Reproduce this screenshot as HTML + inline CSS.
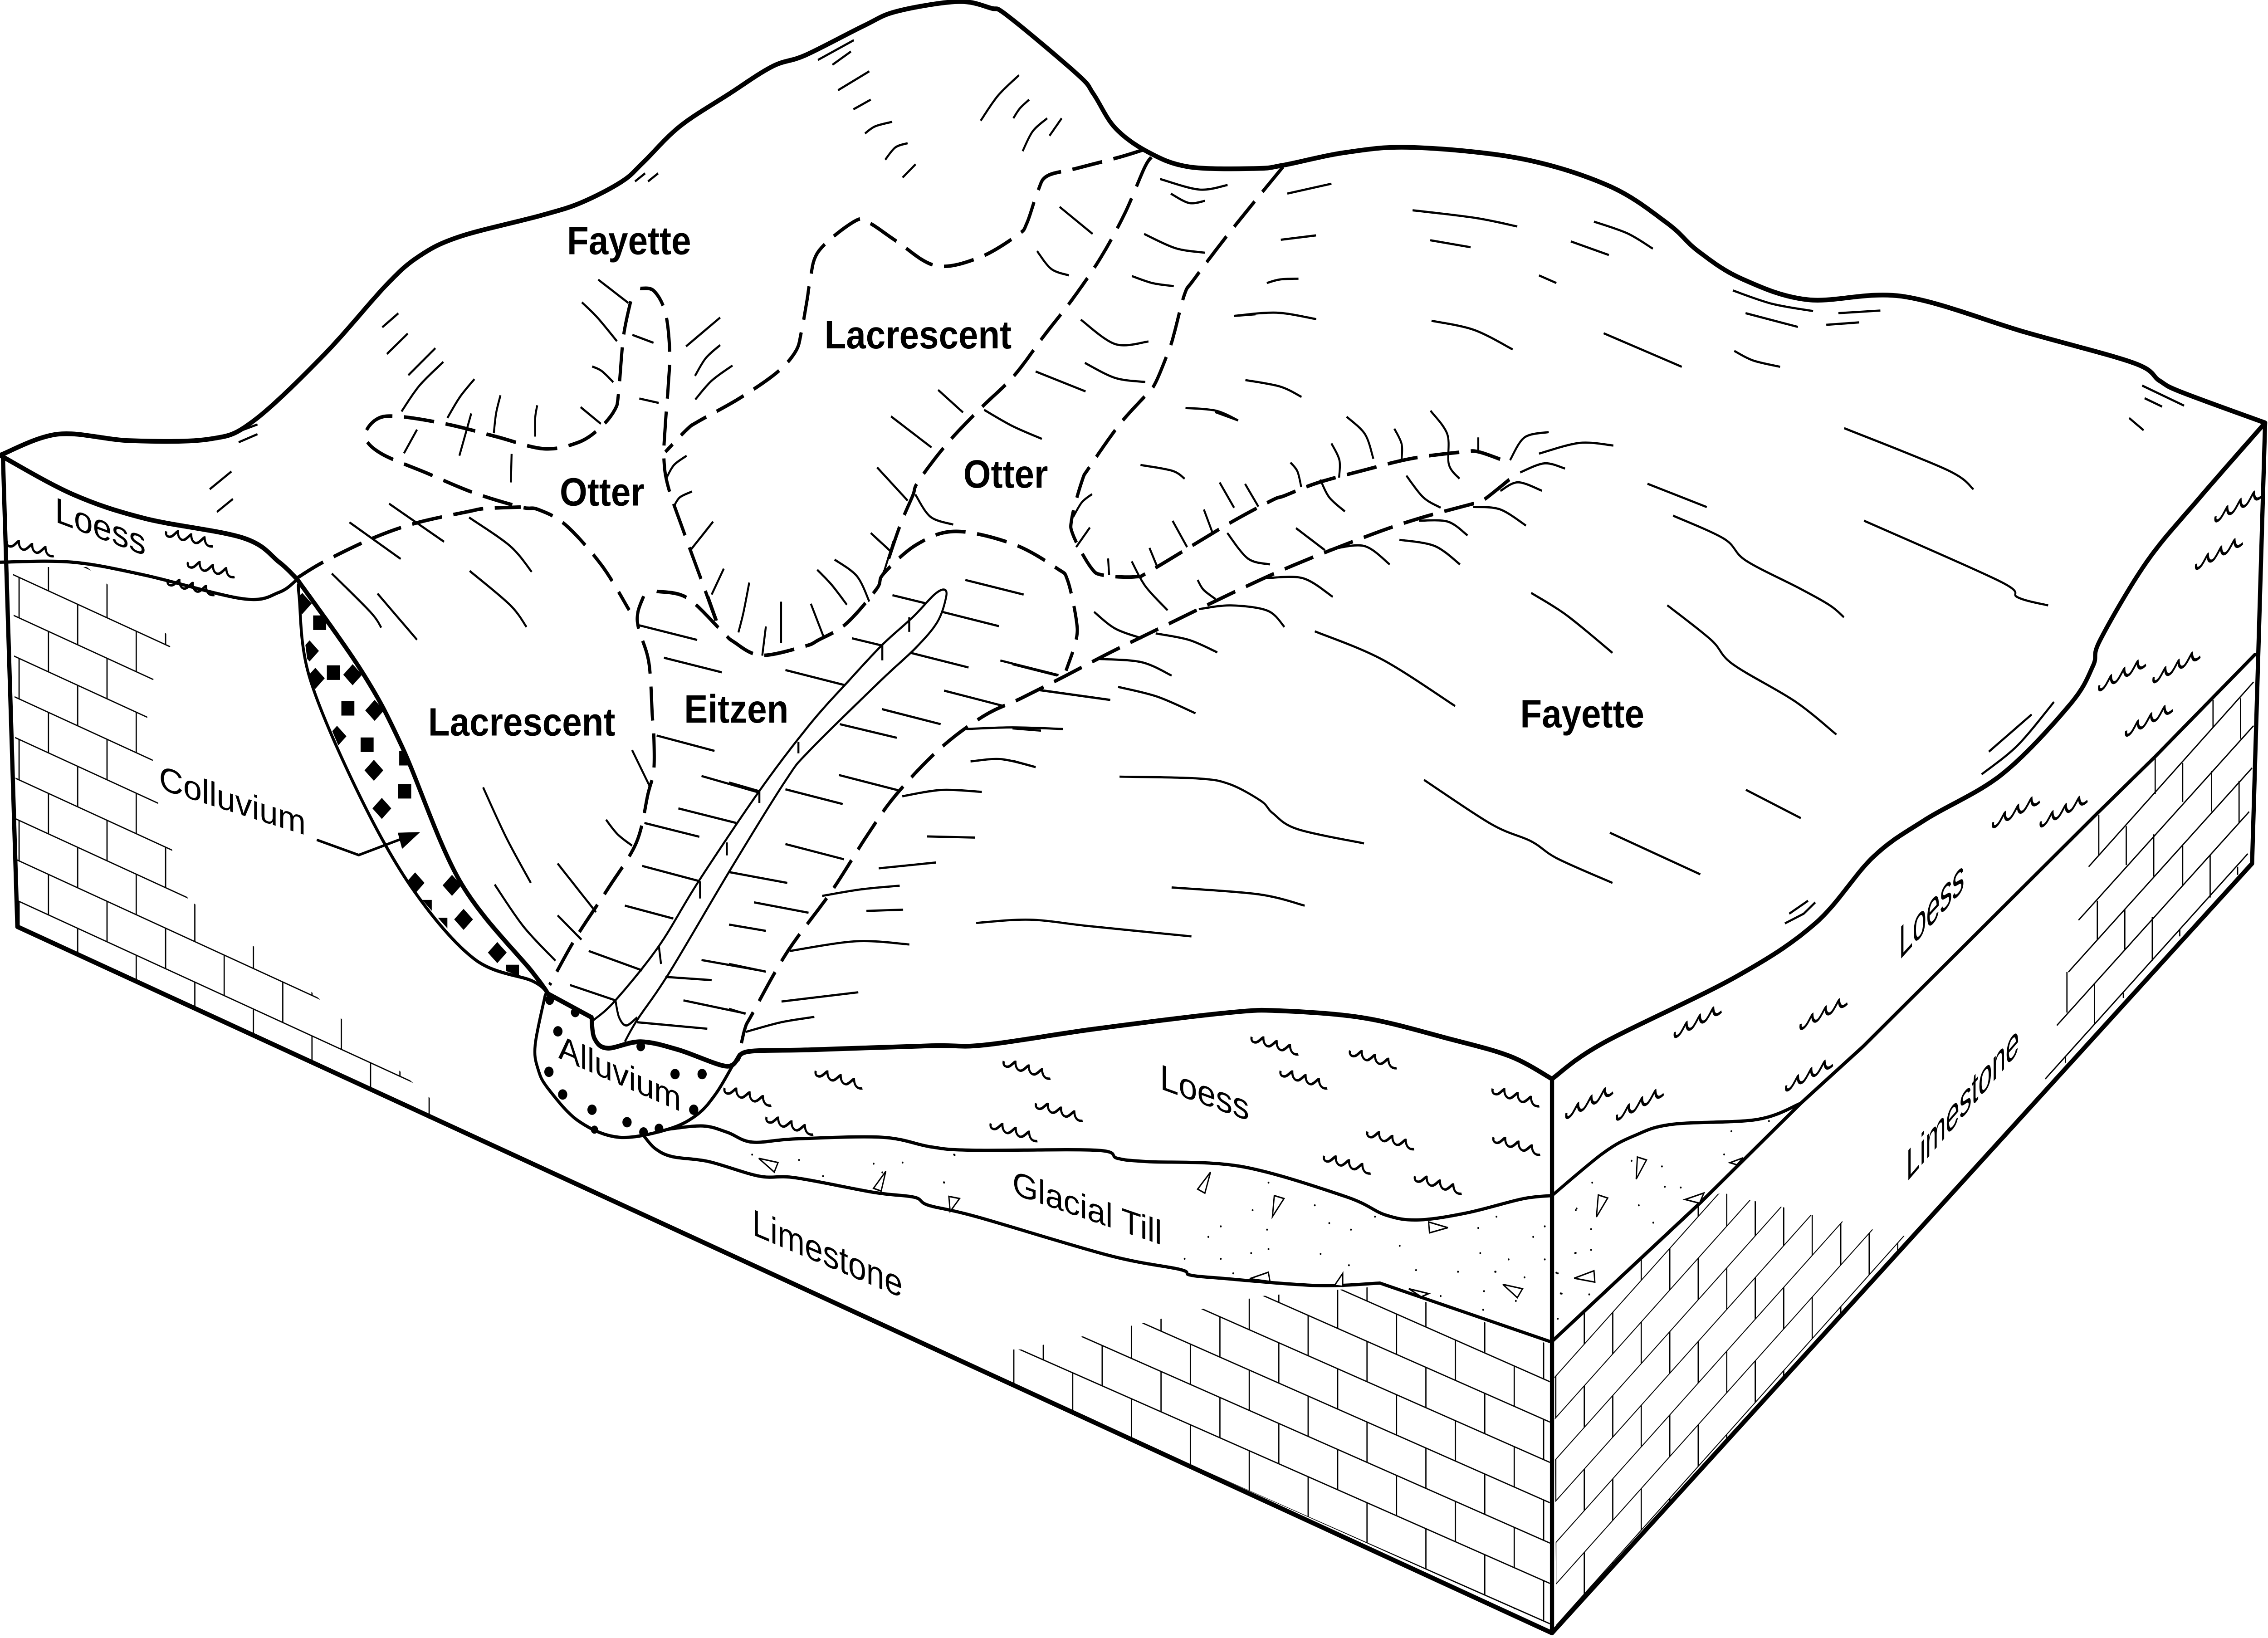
<!DOCTYPE html>
<html><head><meta charset="utf-8"><title>Block diagram</title>
<style>
html,body{margin:0;padding:0;background:#fff;width:100vw;height:100vh;overflow:hidden}
svg{display:block;position:absolute;left:0;top:0;width:100vw;height:100vh}
.t{fill:none;stroke:#000;stroke-width:2.9;stroke-linejoin:round;stroke-linecap:round}
.m{fill:none;stroke:#000;stroke-width:2;stroke-linejoin:round;stroke-linecap:round}
.d{fill:none;stroke:#000;stroke-width:2.2;stroke-dasharray:21 8;stroke-linejoin:round}
.h{fill:none;stroke:#000;stroke-width:1.35;stroke-linejoin:round}
.b{fill:none;stroke:#000;stroke-width:.85}
.w{fill:none;stroke:#000;stroke-width:1.5}
.s{fill:none;stroke:#000;stroke-width:1.2;stroke-linecap:round}
.r{fill:#fff;stroke:#000;stroke-width:.9}
text{font-family:"Liberation Sans",sans-serif;fill:#000}
.lb{font-weight:bold;font-size:24.5px}
</style></head><body>
<svg xmlns="http://www.w3.org/2000/svg" viewBox="0 0 1568 1011.08" preserveAspectRatio="none">
<defs>
<pattern id="pf" patternUnits="userSpaceOnUse" x="695.9" y="550.2" width="40.7" height="49.8" patternTransform="matrix(1,.394,0,1,0,0)">
<path class="b" d="M0 5H40.7M0 29.9H40.7M5 5V29.9M25.4 29.9V49.8M25.4 0V5"/></pattern>
<pattern id="pl" patternUnits="userSpaceOnUse" x="190.5" y="521" width="40.5" height="50" patternTransform="matrix(1,.41,0,1,0,0)">
<path class="b" d="M0 5H40.5M0 30H40.5M5 5V30M25.2 30V50M25.2 0V5"/></pattern>
<pattern id="pr" patternUnits="userSpaceOnUse" x="1110" y="1920" width="39.4" height="51.4" patternTransform="matrix(1,-1,0,1,0,0)">
<path class="b" d="M0 5H39.4M0 30.7H39.4M5 5V30.7M24.7 30.7V51.4M24.7 0V5"/></pattern>
<clipPath id="cf"><polygon points="700,833 706,833 748,825 789,817 831,808 872,800 927,796 954,794 1071.5,830 1071.5,1003 700,855"/></clipPath>
<clipPath id="cl"><polygon points="9,350 60,350 120,395 100,430 110,500 130,555 200,600 300,680 300,692 12,572"/></clipPath>
<clipPath id="cr"><polygon points="1074.5,829 1170,745 1190,736 1211,741 1232,745 1253,750 1274,754 1295,759 1317,763 1320,766 1076,1006"/></clipPath>
<clipPath id="cc"><polygon points="205.5,357.6 250.5,415 278,461 318,544 368,600 379,613.5 368,605.5 328,592 285.5,549 248,490 214,418 206.8,368"/></clipPath>
<path id="w" class="w" d="M0 0c-1 3.5 2.3 3.5 4 2.3c1.7-1.2 3.5-3.5 4-3.5c0 4.6 2.9 5.8 5.2 4c1.7-1.2 3.5-3.5 4-3.5c0 4.6 2.9 5.8 5.2 4c1.7-1.2 3.5-3.5 4-3.5c.2 3.5 1.7 5.8 5.8 4.6"/>
</defs>

<!-- brick patterns -->
<rect x="690" y="780" width="390" height="230" fill="url(#pf)" clip-path="url(#cf)"/>
<rect x="0" y="340" width="310" height="360" fill="url(#pl)" clip-path="url(#cl)"/>
<rect x="1070" y="730" width="260" height="280" fill="url(#pr)" clip-path="url(#cr)"/>
<!-- far right bricks -->
<path class="b" d="M1444 535L1558 421M1437 568L1558 448M1430 600L1557 474M1422 633L1555 501M1414 666L1554 527
M1490 467V490M1530 432V449M1451 503V528M1470 510V534M1509 471V495M1549 431V456M1450 556V580M1489 515V541M1529 476V501M1429 600V625M1469 561V586M1509 522V547M1548 482V508M1448 607V632M1488 566V593M1528 528V554M1428 652V656M1468 613V616M1507 574V578M1547 535V540"/>

<!-- box frame -->
<path class="t sm" d="M0 281L40 268L90 272L145 271L175 260L224 219L267 176L290 158L318 146L374 133L402 125L430 112L445 100L470 78L504 58L534 41L557 34L597 16L620 7L662 1L685 5L697 10L745 46L756 58L771 79L794 94L822 103L868 104L887 102L931 94L977 91L1052 98L1113 115L1153 138L1174 155L1204 172L1250 185L1316 183L1400 205L1475 224L1493 235L1508 242L1566 261M1566 261L1520 308L1484 347L1452 395L1447 411L1431 435L1384 478L1331 506L1295 529L1255 570L1200 603L1108 644L1073 666"/>
<path class="t" d="M1566 261L1557 533L1073 1008L1073 666M1073 1008L12 572L2 281"/>
<path class="m" d="M1073 828L1176 742L1245 681L1288 646L1450 502L1490 467L1559 404" style="stroke-width:2.2"/>
<path class="m sm" d="M1073 738L1108 712L1130 701L1156 694L1215 691L1245 681"/>

<!-- left loess + colluvium -->
<path class="t sm" d="M0 281L50 305L100 320L168 332L193 347L205.5 357.6M205.5 357.6L250.5 415L278 461L318 544L368 600L379 613.5M379 613.5L409 628M409 628L411 641L420 647L443 643L469 648L501 658L510 654M510 654L518 649L560 648L644 645.5L681 645L758 635L850 625L887 624L944 628.5L1001 641L1044 652L1073 666"/>
<path class="m sm" d="M0 347L50 347L100 355L168 369.6L193 365.6L205.5 357.6"/>
<path class="m sm" d="M206.8 360L206.8 368L214 418L248 490L285.5 549L328 592L368 605.5L379 613.5"/>
<g clip-path="url(#cc)">
<path d="M216.5 379.9h9v9h-9zM226 410.7h9v9h-9zM236 432.7h9v9h-9zM249.3 455.2h9v9h-9zM276 463.5h9v9h-9zM275.3 483.9h9v9h-9zM289.5 555.5h9v9h-9zM300.3 566.5h9v9h-9zM349.8 595.5h9v9h-9z"/>
<path d="M209 366l6.5 6.5-6.5 6.5-6.5-6.5zM214 395.3l6.5 6.5-6.5 6.5-6.5-6.5zM218 412.2l6.5 6.5-6.5 6.5-6.5-6.5zM243.8 410l6.5 6.5-6.5 6.5-6.5-6.5zM259 432l6.5 6.5-6.5 6.5-6.5-6.5zM233 448l6.5 6.5-6.5 6.5-6.5-6.5zM258.5 469l6.5 6.5-6.5 6.5-6.5-6.5zM264 492.5l6.5 6.5-6.5 6.5-6.5-6.5zM287 538.5l6.5 6.5-6.5 6.5-6.5-6.5zM312.5 540l6.5 6.5-6.5 6.5-6.5-6.5zM320.5 561l6.5 6.5-6.5 6.5-6.5-6.5zM343.8 581.5l6.5 6.5-6.5 6.5-6.5-6.5z"/>
</g>
<!-- arrow -->
<path class="m" style="stroke-width:1.6;stroke-linecap:butt" d="M219 518.4L248 527.8L280 517"/>
<path d="M290.5 513.6L275 514L278 524z"/>

<!-- alluvium -->
<path class="m sm" d="M377 614L370 645L372 660L379 672L400 692L428 702L462 697L482 688L495 675L507 657L511 651"/>
<g><circle cx="385.7" cy="636.6" r="3.2"/><circle cx="379.5" cy="661.6" r="3.2"/><circle cx="389" cy="675.6" r="3.2"/><circle cx="409.3" cy="685" r="3.2"/><circle cx="433.5" cy="692.7" r="3.2"/><circle cx="466.7" cy="663" r="3.2"/><circle cx="485.4" cy="663" r="3.2"/><circle cx="479.6" cy="685" r="3.2"/><circle cx="444.9" cy="698.8" r="3"/><circle cx="455.6" cy="696.6" r="3"/><circle cx="443" cy="645.9" r="3"/><circle cx="380" cy="617.3" r="3"/><circle cx="397.7" cy="624.9" r="3"/><circle cx="411" cy="697.3" r="2.5"/></g>

<!-- front loess base & till base -->
<path class="m sm" d="M462 697L486 695L503 699L520 705L550 703L610 702L644 708L672.6 710L758 710L772.6 715L792.6 717L858 720L930 738.5L958 750L981 753L1015 748.5L1052.6 740L1073 738"/>
<path class="m sm" d="M445 701L453 709L465 714L490 717L525 726L550 727L604 736L632 739L642 744L675 751L767 775L815.4 783.5L822.6 787L844 789L910 793.5L954 792M954 792L1073 828.5"/>

<!-- channel -->
<path class="h sm" d="M410.5 629.6L425.5 617.5L455.5 584L483 544L525.5 487.6L560 447L587 420L610 398L631 381L646 367L653 364L654 369L648 384L633 400L609 420L560 463L543 482L505.5 536L463 600L440.5 629.6L432 643"/>
<path class="h sm" d="M425.5 617.5L428 628L433 633L440.5 628"/>
<path class="h" d="M628.6 381V390M610 398V407.6M525 488V495.6M502.5 520V528M484 544V554.6M455.5 584L457 595M552 458V465"/>

<!-- dashed soil boundaries -->
<path class="d sm" d="M442.6 178L452 179.5L460 193L463 217L462 238L460 262L459 283L462 300.6L472.6 328L485.5 359.5L495 383"/>
<path class="d sm" d="M436 186L431 208L427.6 243L425 253L415 264L400 273L376 277L343 269.5L310 262L275 257L260 259L252.5 269.5L263.6 280L295 292L327 304L360 313L372 314.5L391 324L416 349L435 376.6"/>
<path class="d sm" d="M445 368L441 378L441.5 388L448.6 409L451 442L452 453L452 475.5L448 490L440 520L420 549L398 579L380 608"/>
<path class="d sm" d="M454 365L475 369L499 389.5L507 396L526 404.5L556 399L566 395L585 385L606 363.6L611 354L634 336L661 328L701 336L731 351L738 358L744 382L744 395L737 414"/>
<path class="d sm" d="M205 357L224 346.7L258.3 332L288.3 322.7L324.7 315.6L335.4 313.9L360 313"/>
<path class="d sm" d="M790 92.6L774 97L744 104L724 108.6L717.5 118L710 137.6L703.6 145L677 159L647 164L620 149L601 137.6L591 136.5L566 155L560 174L558 185L554 205L550 217L537 230L511 246L483 260L475 265L460 279"/>
<path class="d sm" d="M796 97L791 104L777.5 132L761 159L742 184L722 207L701 232L678 252L655 273.6L635 297L631 306L622 325L611 354"/>
<path class="d sm" d="M887 103L870 121.5L847 147L825 173L819 181.5L812 205L808.6 215L799 236L792.5 243.6L774 262L753 288.6L748 297L741 320L742 330.5L754 350L762.5 355L785 356L796 352L848 324L879 309L888 306L911 298L944 290L976 283L1011 279L1022.6 279L1043 285.5"/>
<path class="d sm" d="M1043.5 296L1025 309L1016 311.5L981 320L948 330L894 349L852 366L799 389L767 403L737 417L706 431L680 442L650 462L620 490L600 515L575 550L544 588L520 626L515 635L511 651"/>

<!-- hatch: upper-left Fayette -->
<path class="h sm" d="M264.3 202L275.4 193.4M267.5 218.5L281.9 205.9M282.3 231.6L301 214.9M277.6 254L290 238L306.5 223.4M309.3 258L318 245L328 234M341.4 267.4L343 255L346 244M370 269.5L370 258L371.4 250.2M401.4 251.3L415.4 261.6M409.4 226.2L416 229L424 235.9M402.3 186.6L413 196L426.5 210.6M413.6 172.6L434.4 187M437.2 206.7L451.8 211.6M442 246L455.4 248.7M474.3 213.8L497.9 196M480.5 232L488 221L497.9 213M480.7 246.6L492 235L506.4 225.6M288.3 265.2L279.3 279.8M325.8 255.2L317.6 281.3M353.7 280.2L353.2 297.8M269 310.9L307 334.4M241.6 322.4L277 345M324.3 319.4L352.6 337L367.6 353M229.4 354L256 377.7L263.6 387.4M261 366.4L288.3 394.9M324.7 352.4L352.6 373.4L364 387"/>
<path class="h" d="M160 268L178 262M165 273L178 268M145 302L160 291M150 316L161 308M439 112L446 107M448 112L455 107"/>
<!-- hatch: near Otter & ticks -->
<path class="h sm" d="M500.4 351L492 367M518 359.6L514 378L510.5 390.4M477 340L493 322M466 312.4L470 307L478.4 303.4M460.8 295L466 287L474.7 281.3M489.7 368L495.7 383M540 371.4L540 397M529.5 386.7L527 404.7M560.6 372.7L569.8 394M565 351.7L575 361L585.5 373.3M577 345.4L592.4 355.6L601 371.3M617.7 334L610.8 354"/>
<!-- hatch: top peak -->
<path class="h sm" d="M565.5 37L590.3 24.8M575.5 40L588.3 31.8M579.4 55.7L601 44M590 67.5L602 61.5M598 82.4L605 78L616.8 75.2M612 98.6L619 91L627.5 88.4M624 109.6L633 101.4M678 74.5L690 59L704.5 46.4M700.6 73L705 67L711.5 61.5M707 93.3L714 81L724 73M725.6 83.8L734 73"/>
<path class="h sm" d="M802 110.5L829 117L848.7 114.2M809.4 119.5L822 125.3L833 124M732.6 127.7L755.4 144.4M717 155L726.8 166L739 170M791 144.4L812.7 153.2L833 156M782.5 170.4L797 174.8L811.5 176.6M747.2 197.3L771 212.4L794 210.8M716 229.3L750.5 241.6M750 224L771 233.3L791.8 235.8M648.6 240.7L665.8 254.6M616 257L644 276.2M680.4 253L700 263L720.3 270.9M606.4 288.5L627.5 309M632.8 305.2L643.3 319L659 323.8M819.6 251.8L840.6 253.5L856 259.5M788.5 287L810.4 290.6L819 295.5M742 319L748 310L755 305M744 337.7L753.5 325.6M602 329L616.6 341M853.3 195L868 194"/>
<!-- hatch: Eitzen -->
<path class="h" d="M442 386L482 395M459 406L499 415M617 367.4L639.5 372.3M651 377.6L690.6 386.5M667.4 358L707.7 367M589 394L610 398.5M629.7 403L669.6 412M691.6 407.7L731.8 416.7M543 413.6L584.5 423M652.7 426.3L693 435.6M609.7 437.7L650.3 447M580.6 447L620 455.4M580 478.4L620.9 487.8M543 487.2L582.6 496.3M504 483L525 488.4M543 521L583.5 530.4M504 538.3L544.3 545M521.3 557L559 563.4M504 570.7L529.5 574.6M504 595L529.5 599.8M504 622.7L515 625.7M454 454L494 463.5M485 479L524 489M469 499L509 508M445.5 508L483.5 516.5M444 534.5L484 544M432 559L465.5 567M485 592.6L529 599.6M460 603L492 605M472.5 617.5L515.5 625.6M440.5 631L489 635M407 587L444 599M394 608L425.5 617.5"/>
<!-- hatch: lower Lacrescent -->
<path class="h sm" d="M334 486L350 517L367 545M437 463L449 485M419 506L427 515L437 522M385.5 533L412 563M342 546L362 572L384 593M385.5 565L402 580"/>
<!-- hatch: Fayette near valley -->
<path class="h sm" d="M931 257.2L943.7 268L949.5 283.2M989 253.5L1000.6 268L1001.7 286.7L1009 295.5M964 264.6L969 274L969 284M920.5 273.7L926 284L925.8 294.8M892.2 285.5L897 291L899.6 300.6M912.8 296L919 307L929.8 315.7M972.3 293.6L984 307L996 313.4M1022 270L1022 279M1044 284L1054 270L1070.7 266.7M1051 291.6L1067.7 286L1082 289.2M1064 280L1092 273.4L1115.4 275M1037.3 303L1049.5 297.7L1066 302.9M1018.5 312.9L1037 314.4L1055 324.4M981 321.4L1001 322L1014.6 330.5M967.5 333.2L991.8 337L1009.4 348.4M919 339.3L943 337L960.8 348.4M875 356.9L900.7 356.9L921.4 368.4M896 326L916 339.6M848.5 329L862.8 344.8L878 348.4M828 358L832 364L840.4 369.8M782.4 346.5L792 362L807.2 376.7M756.4 377.7L771 388L789.4 394M828.8 376L850.9 373.7L876.4 377L888 387M799 391L822 395L841.6 402.7M773 424L800 430L826.5 440.3M758.7 406.7L789 408.7L810 417M719.5 426L767.6 432M668 450L700 449L735 450M671 470L692 468.6L716 473.5M623.8 491.5L651 487.6L678.8 488.8M641 516.3L674 517M607.5 536L647 532.4M568.4 553L595 549L622 546.7M599 562.3L624.4 561.5M546 587L592 581L628.7 583M540.3 618.2L593.4 612.5M515.8 636.9L540 631L563 627.7M766.1 344.7L766.8 355M794.7 338.2L799.8 349.3M810.7 321.5L820.7 337.7M832.3 314.5L838.6 329.6M843.2 297.8L853.2 313.4M860.8 298.7L870 312.7"/>
<!-- hatch: open Fayette -->
<path class="h sm" d="M674.9 569.7L712 567.7L753.4 571.7L823.7 578M774 479.4L827.7 480.5L850 484L871.8 494.4L880 502L897 511.8L943 520.6M810 547.8L870 552L902 559M984.5 481.4L1031 508.7L1058.6 519.3L1076.8 530L1114.8 545M1113 514L1175.5 539.7M1207 487.5L1245 505M909 389.7L955.4 407L1006 435.8M1058.6 366L1083 379.7L1114.8 403M1152.7 373.6L1183 395L1198 410L1240.8 432.8L1269.6 453.4M1156.7 318.3L1192 332.6L1207 346L1243.8 363L1265 373.6L1274.8 381M1139 298.6L1180 313M1275 264.3L1346 290L1364.4 302M1288.7 321.4L1382.6 358.8L1395 368.7L1416 373.7M1481 238L1510 250.4M1482.7 245.8L1494.8 251M1472 258L1482 265.6M1420 433.3L1395 460L1370 478M1404.6 441L1375 464"/>
<path class="h sm" d="M890 119.5L920.5 113.4M885.5 148L909.8 145.3M875.8 174.7L885 172.5L897.7 172M853 195L882.5 193L910 197M976.6 129.8L1020 134.5L1049 139.8M988.8 148.3L1016.7 152.6M1102 136.8L1125 144L1142.7 153.5M1086 149L1112.3 157.4M1064 170L1076 174.7M989.7 198L1019 203.6L1045.8 215.7M1108.7 205.7L1162.7 226.4M1199 216.6L1212 222.5L1230.7 226.4M1198 179.3L1225 187.5L1253.5 192M1206.8 193.3L1243 201.8M1271 193.3L1300 191.7M1262.6 200.5L1285.4 199M861 234.6L885 238.6L899.8 245M840 254.3L856 259.5"/>
<path class="h" d="M700 410L731 417M718.6 426L767 432M700 449.6L719.7 451M700 469.6L716 473.5"/>
<path class="h" d="M1234 570L1247 564L1255 557M1237 564L1250 556"/>

<!-- squiggles -->
<g>
<use href="#w" transform="matrix(1,.2,0,1,564,661)"/><use href="#w" transform="matrix(1,.2,0,1,501,671.6)"/><use href="#w" transform="matrix(1,.2,0,1,530,689.5)"/><use href="#w" transform="matrix(1,.2,0,1,694,655)"/><use href="#w" transform="matrix(1,.2,0,1,865.4,640)"/><use href="#w" transform="matrix(1,.2,0,1,933.4,648.5)"/><use href="#w" transform="matrix(1,.2,0,1,885.4,661)"/><use href="#w" transform="matrix(1,.2,0,1,1032,672)"/><use href="#w" transform="matrix(1,.2,0,1,945.4,698.5)"/><use href="#w" transform="matrix(1,.2,0,1,1032.6,702)"/><use href="#w" transform="matrix(1,.2,0,1,915.4,713.5)"/><use href="#w" transform="matrix(1,.2,0,1,978.3,726)"/><use href="#w" transform="matrix(1,.2,0,1,716.3,681)"/><use href="#w" transform="matrix(1,.2,0,1,685,693.5)"/>
<use href="#w" transform="matrix(1,.15,0,1,5,334)"/><use href="#w" transform="matrix(1,.15,0,1,115,328)"/><use href="#w" transform="matrix(1,.15,0,1,130,347)"/><use href="#w" transform="matrix(1,.15,0,1,116,358)"/>
<use href="#w" transform="matrix(1,-.55,0,1.15,1083,687)"/><use href="#w" transform="matrix(1,-.55,0,1.15,1118,688)"/><use href="#w" transform="matrix(1,-.55,0,1.15,1235,670)"/><use href="#w" transform="matrix(1,-.55,0,1.15,1158,637)"/><use href="#w" transform="matrix(1,-.55,0,1.15,1245,632)"/><use href="#w" transform="matrix(1,-.55,0,1.15,1378,507.5)"/><use href="#w" transform="matrix(1,-.55,0,1.15,1411,507)"/><use href="#w" transform="matrix(1,-.55,0,1.15,1470,451)"/><use href="#w" transform="matrix(1,-.55,0,1.15,1451.4,423)"/><use href="#w" transform="matrix(1,-.55,0,1.15,1489,418)"/><use href="#w" transform="matrix(1,-.55,0,1.15,1531.8,318.7)"/><use href="#w" transform="matrix(1,-.55,0,1.15,1518.4,348)"/>
</g>

<!-- till triangles -->
<path class="r" d="M656 738.5L663.4 739.8L656.9 747.8zM828 734L836.9 723.5L833 736.5zM881 738L887.7 739.8L879.7 751zM987.7 754.3L1001 757.8L988.3 761zM1039 792.8L1052.6 795.5L1049 801zM864 789.3L876.9 785.3L878 791zM922.6 793.5L928.3 786L928.3 794zM974 795.5L987.7 798.5L982.6 800.5zM524.6 715L537.9 717.6L535.3 723.5zM612.4 723L603.9 733.5L609.2 735.2zM1132 714.2L1138.3 716L1131.2 727.8zM1105 737.6L1111.5 739.5L1103.7 751.2zM1165 740.4L1178 736.4L1175 742.7zM1088.3 789L1102 784.4L1102.6 791.4zM1196 717.7L1205 714.7L1200.8 719z"/>
<!-- till dots -->
<path class="s" d="M660 713h0M652.6 729.8h0M877 730h0M909 744h0M866 747h0M950.6 751h0M919 755h0M844 757h0M876 759h0M934 759h0M835.4 763.5h0M967.7 769h0M865 773.5h0M877 771h0M913 774h0M819 777h0M844 777h0M932.6 781h0M852.6 786h0M979 784h0M1008 785h0M1034.6 751h0M1022 758h0M1068 757h0M1060 763.5h0M1023.4 773.5h0M1034 785h0M1054 788.5h0M1026 797h0M996 800h0M1077 786h0M1025.4 808.5h0M1048 803h0M1079.7 798.5h0M1077 814h0M1090 746h0M1089 773.5h0M520 712.7h0M552.4 716h0M604 718.3h0M624 717.6h0M569 726h0M652.7 730h0M659.6 712.7h0M610 723.7h0M1223 692h0M1197 698.3h0M1192 712.6h0M1128 716.5h0M1149 720h0M1100.8 730h0M1151 732.5h0M1162 733h0M1089.4 747h0M1133 744h0M1143 754.7h0M1100 758.7h0M1089.4 773.4h0M1100 771.5h0M1076 785.6h0M1079 798.4h0M1098.7 799h0M1043 777.4h0M1068 777.4h0M1033.7 785h0"/>

<!-- labels: bold -->
<text class="lb" x="392" y="157">Fayette</text>
<text class="lb" x="570" y="215">Lacrescent</text>
<text class="lb" x="387" y="312">Otter</text>
<text class="lb" x="666" y="301">Otter</text>
<text class="lb" x="296" y="454">Lacrescent</text>
<text class="lb" x="473" y="446">Eitzen</text>
<text class="lb" x="1051" y="449">Fayette</text>
<!-- labels: regular, skewed on faces -->
<text font-size="22" transform="matrix(1.07,.36,0,1,38,322)">Loess</text>
<text font-size="21" transform="matrix(1.1,.31,0,1,110,487)">Colluvium</text>
<text font-size="21" transform="matrix(1.07,.42,0,1,386,653)">Alluvium</text>
<text font-size="23" transform="matrix(.98,.37,0,1,520,762)">Limestone</text>
<text font-size="22" transform="matrix(1.05,.34,0,1,802,672)">Loess</text>
<text font-size="21" transform="matrix(1.08,.33,0,1,700,737)">Glacial Till</text>
<text font-size="28.7" transform="matrix(.588,-.58,0,1,1313,593)">Loess</text>
<text font-size="27" transform="matrix(.626,-.65,0,1,1318,730)">Limestone</text>
</svg>
<script>
document.querySelectorAll('path.sm').forEach(function(p){
  var subs=p.getAttribute('d').split(/(?=M)/),out='';
  subs.forEach(function(s){
    var n=s.replace(/[ML]/g,' ').trim().split(/\s+/).map(Number),pts=[];
    for(var i=0;i+1<n.length;i+=2)pts.push([n[i],n[i+1]]);
    if(pts.length<3){out+=s;return;}
    out+='M'+pts[0][0]+' '+pts[0][1];
    for(var j=0;j<pts.length-1;j++){
      var a=pts[Math.max(j-1,0)],b=pts[j],c=pts[j+1],d=pts[Math.min(j+2,pts.length-1)];
      out+='C'+(b[0]+(c[0]-a[0])/6).toFixed(2)+' '+(b[1]+(c[1]-a[1])/6).toFixed(2)+' '+(c[0]-(d[0]-b[0])/6).toFixed(2)+' '+(c[1]-(d[1]-b[1])/6).toFixed(2)+' '+c[0]+' '+c[1];
    }
  });
  p.setAttribute('d',out);
});
</script>
</body></html>
